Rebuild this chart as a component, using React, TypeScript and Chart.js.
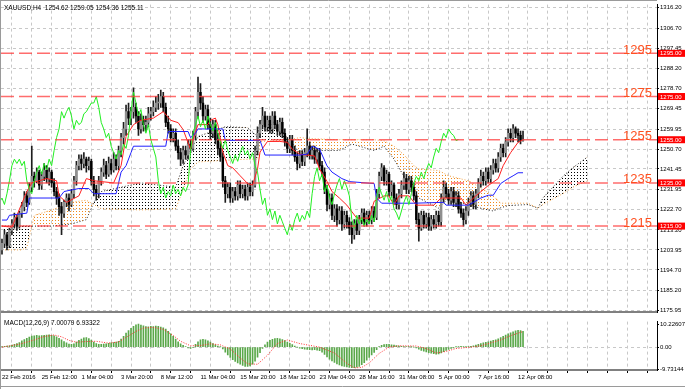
import React, { useEffect, useRef } from 'react';
import { Chart, registerables } from 'chart.js';
Chart.register(...registerables);

const TITLE = 'XAUUSD,H4  1254.62 1259.05 1254.36 1255.11';
const MACD_TITLE = 'MACD(12,26,9) 7.00079 6.93322';
const X_LABELS = ['22 Feb 2016', '25 Feb 12:00', '1 Mar 04:00', '3 Mar 20:00', '8 Mar 12:00', '11 Mar 04:00', '15 Mar 20:00', '18 Mar 12:00', '23 Mar 04:00', '28 Mar 16:00', '31 Mar 08:00', '5 Apr 00:00', '7 Apr 16:00', '12 Apr 08:00'];
const Y_TICKS = [1316.2, 1306.7, 1297.45, 1288.2, 1278.7, 1269.45, 1259.95, 1250.7, 1241.45, 1231.95, 1222.7, 1213.2, 1203.95, 1194.7, 1185.2, 1175.95];
const MACD_TICKS = [10.22607, 0, -9.73144];
const LEVELS = [1295, 1275, 1255, 1235, 1215];

const OPEN = [
  1204,1207,1211,1206,1213,1216,1219,1215,1221,1224,
  1229,1226,1233,1238,1236,1240,1234,1238,1241,1237,
  1240,1235,1231,1228,1224,1221,1226,1228,1225,1230,
  1236,1243,1246,1244,1246,1243,1245,1236,1232,1230,
  1236,1240,1243,1239,1244,1241,1246,1243,1250,1256,
  1260,1268,1265,1268,1270,1266,1260,1264,1262,1263,
  1267,1268,1270,1272,1272,1275,1270,1263,1260,1256,
  1258,1252,1249,1246,1250,1248,1253,1251,1257,1268,
  1277,1272,1266,1269,1262,1258,1262,1255,1251,1247,
  1236,1230,1233,1228,1231,1229,1234,1230,1232,1229,
  1233,1231,1234,1250,1258,1262,1266,1261,1264,1260,
  1266,1262,1259,1263,1258,1254,1251,1255,1250,1247,
  1244,1248,1245,1249,1252,1248,1250,1246,1249,1243,
  1240,1232,1225,1228,1220,1223,1218,1222,1216,1220,
  1217,1214,1211,1216,1213,1218,1221,1217,1220,1218,
  1222,1219,1230,1238,1242,1236,1239,1231,1234,1228,
  1225,1230,1234,1237,1232,1236,1233,1229,1218,1214,
  1220,1216,1219,1215,1218,1216,1220,1217,1228,1233,
  1230,1227,1231,1226,1229,1223,1221,1218,1222,1226,
  1229,1225,1230,1235,1238,1236,1240,1237,1241,1244,
  1242,1247,1251,1249,1254,1258,1256,1260,1258,1257,1254.62
];
const HIGH = [
  1209,1213,1212,1214,1218,1221,1220,1222,1226,1231,
  1231,1235,1252,1240,1242,1241,1240,1244,1243,1242,
  1241,1237,1233,1230,1226,1227,1230,1230,1232,1238,
  1245,1248,1248,1249,1247,1247,1246,1238,1234,1238,
  1242,1246,1245,1247,1246,1249,1248,1252,1258,1263,
  1271,1272,1270,1279,1272,1268,1267,1266,1266,1270,
  1270,1273,1275,1276,1278,1277,1272,1266,1262,1260,
  1260,1255,1251,1252,1252,1255,1255,1259,1270,1284,
  1281,1275,1271,1271,1265,1264,1264,1258,1254,1249,
  1238,1235,1235,1233,1233,1236,1236,1234,1234,1235,
  1235,1236,1252,1261,1264,1270,1268,1266,1266,1268,
  1268,1264,1265,1265,1260,1256,1257,1257,1252,1249,
  1250,1250,1251,1260,1254,1252,1252,1251,1251,1245,
  1242,1234,1230,1230,1225,1225,1224,1224,1222,1222,
  1219,1217,1218,1218,1220,1223,1223,1222,1222,1224,
  1224,1232,1240,1244,1243,1241,1240,1236,1235,1230,
  1232,1236,1240,1239,1238,1238,1235,1231,1221,1222,
  1222,1221,1221,1220,1220,1222,1222,1230,1236,1235,
  1232,1233,1233,1231,1231,1226,1223,1224,1228,1231,
  1231,1232,1237,1241,1240,1242,1242,1243,1246,1246,
  1249,1253,1253,1256,1260,1260,1262,1261,1260,1259,1259.05
];
const LOW = [
  1202,1205,1204,1205,1211,1214,1213,1214,1219,1222,
  1224,1225,1231,1233,1235,1232,1232,1236,1235,1234,
  1233,1229,1225,1220,1211,1219,1224,1222,1224,1228,
  1234,1241,1241,1242,1240,1241,1234,1229,1227,1228,
  1234,1238,1237,1238,1239,1240,1241,1241,1247,1253,
  1257,1262,1262,1265,1263,1257,1258,1259,1259,1261,
  1264,1266,1268,1269,1270,1268,1261,1258,1254,1254,
  1250,1246,1243,1244,1246,1246,1249,1250,1255,1265,
  1269,1263,1264,1260,1255,1256,1253,1248,1245,1233,
  1226,1228,1226,1226,1227,1227,1228,1228,1227,1227,
  1229,1229,1233,1248,1256,1260,1259,1259,1258,1258,
  1260,1257,1257,1256,1252,1249,1249,1248,1245,1241,
  1242,1243,1243,1247,1246,1246,1244,1244,1241,1238,
  1230,1222,1223,1218,1217,1215,1216,1213,1214,1214,
  1211,1207,1209,1211,1211,1216,1215,1215,1216,1216,
  1217,1218,1228,1236,1234,1234,1229,1229,1226,1223,
  1223,1228,1232,1230,1230,1231,1227,1216,1208,1213,
  1214,1214,1213,1213,1214,1214,1215,1215,1226,1228,
  1225,1225,1224,1224,1221,1219,1215,1216,1220,1224,
  1223,1223,1228,1233,1234,1234,1235,1235,1239,1240,
  1240,1245,1247,1247,1252,1254,1254,1256,1254,1253,1254.36
];
const CLOSE = [
  1207,1211,1206,1213,1216,1219,1215,1221,1224,1229,
  1226,1233,1238,1236,1240,1234,1238,1241,1237,1240,
  1235,1231,1228,1224,1221,1226,1228,1225,1230,1236,
  1243,1246,1244,1246,1243,1245,1236,1232,1230,1236,
  1240,1243,1239,1244,1241,1246,1243,1250,1256,1260,
  1268,1265,1268,1270,1266,1260,1264,1262,1263,1267,
  1268,1270,1272,1272,1275,1270,1263,1260,1256,1258,
  1252,1249,1246,1250,1248,1253,1251,1257,1268,1277,
  1272,1266,1269,1262,1258,1262,1255,1251,1247,1236,
  1230,1233,1228,1231,1229,1234,1230,1232,1229,1233,
  1231,1234,1250,1258,1262,1266,1261,1264,1260,1266,
  1262,1259,1263,1258,1254,1251,1255,1250,1247,1244,
  1248,1245,1249,1252,1248,1250,1246,1249,1243,1240,
  1232,1225,1228,1220,1223,1218,1222,1216,1220,1217,
  1214,1211,1216,1213,1218,1221,1217,1220,1218,1222,
  1219,1230,1238,1242,1236,1239,1231,1234,1228,1225,
  1230,1234,1237,1232,1236,1233,1229,1218,1214,1220,
  1216,1219,1215,1218,1216,1220,1217,1228,1233,1230,
  1227,1231,1226,1229,1223,1221,1218,1222,1226,1229,
  1225,1230,1235,1238,1236,1240,1237,1241,1244,1242,
  1247,1251,1249,1254,1258,1256,1260,1258,1257,1254.62,1255.11
];

const CHIKOU_SHIFT = 26;

const TENKAN_BARS = [0,4,10,12,18,22,23,26,31,34,37,45,48,50,53,56,61,65,68,71,73,76,77,79,83,84,86,87,89,91,93,96,99,101,103,104,107,112,115,117,120,126,128,131,133,136,139,143,148,150,154,156,158,160,164,167,174,177,185,187,191,196,200,202,205,208,210];
const TENKAN = [1215,1214.5,1231,1235,1237,1236,1229,1226,1229,1237,1236,1235,1243,1256.5,1262,1264,1265,1268,1264,1262.9,1259.7,1250.6,1255,1262,1262,1264,1265,1262,1249.3,1243,1242,1238.3,1234.7,1234,1241.5,1249.3,1254.2,1254.2,1253.8,1250.6,1248.3,1247.5,1241.5,1235.7,1231,1228,1224.7,1218.7,1218.7,1226.5,1229,1229,1224.7,1229,1229,1224.7,1224.7,1228,1228,1224.7,1229,1233.8,1237,1243,1249,1253.8,1255];

const KIJUN_BARS = [0,2,3,10,11,23,25,27,31,35,37,46,48,50,52,53,66,67,75,76,78,79,89,90,104,106,120,123,125,128,131,133,137,140,150,151,153,166,178,179,188,190,193,196,198,201,204,206,208,210];
const KIJUN = [1217.8,1217.8,1220,1221,1228,1228,1231,1231.5,1232.4,1232.4,1230,1230,1240,1243,1249,1252,1252,1258.8,1258.8,1256,1258,1260,1260,1254.7,1254.7,1247.9,1247.9,1248.3,1252,1250.6,1242.9,1240,1237,1235.6,1234.7,1228,1225.6,1225.6,1226,1224.7,1224.7,1226,1228,1229.3,1229.3,1234.7,1237,1238.3,1239.7,1239.7];

const CLOUD_BARS = [0,8,10,13,20,28,34,37,40,56,70,73,76,79,90,99,103,104,110,115,118,120,124,136,141,150,154,158,162,166,168,176,180,188,194,198,201,204,212,216,218,226,230,236];
const SPAN_A = [1204,1204,1205,1220,1222.4,1226,1227,1225,1223,1222.5,1223,1232,1241.5,1244.7,1245.5,1246,1246,1254.2,1254.5,1255,1255.5,1256,1255.5,1255,1255,1255,1254.5,1252,1248,1243,1241.5,1240.7,1238.3,1236,1232,1229,1225.6,1225.6,1225.6,1223.3,1225,1230,1233,1236];
const SPAN_B = [1215,1215,1215,1215,1215,1216,1218,1226,1231,1235,1233,1243,1250,1256.5,1261,1260.6,1256.5,1264,1263,1256,1252,1248,1250,1250,1253,1250,1252,1246,1238,1232,1228,1223.3,1228,1224.7,1223,1222,1223.5,1224.5,1225,1223.3,1228,1238,1242,1247];

const MACD_HIST = [
  0.3,0.4,0.5,0.6,0.9,1.2,1.6,2.0,2.8,3.4,
  3.9,4.5,4.9,5.0,5.2,5.0,5.1,5.3,5.4,5.5,
  5.3,5.0,4.6,3.9,3.2,2.5,1.9,1.4,1.2,1.5,
  2.2,3.0,3.6,4.1,4.3,3.8,3.1,2.3,1.6,1.3,
  1.2,1.4,1.5,1.7,1.9,2.0,2.2,2.6,3.6,4.8,
  6.2,7.4,8.4,9.2,9.9,10.2,9.8,9.5,9.1,9.0,
  9.2,9.1,9.3,9.2,8.9,8.6,8.0,7.0,5.9,4.8,
  3.6,2.4,1.5,0.8,0.2,-0.3,-0.6,-0.2,1.2,2.4,
  3.2,3.5,3.3,2.8,2.2,1.6,1.0,0.5,0.1,-0.8,
  -2.2,-3.5,-4.6,-5.6,-6.3,-7.0,-7.6,-8.1,-8.5,-8.6,
  -8.3,-7.6,-6.2,-4.4,-2.4,-0.6,1.0,2.2,3.0,3.5,
  3.8,3.9,3.7,3.4,2.9,2.3,1.7,1.1,0.5,0.0,
  -0.4,-0.7,-0.9,-1.0,-1.1,-1.2,-1.1,-1.3,-1.6,-2.2,
  -3.2,-4.3,-5.3,-6.1,-6.8,-7.4,-7.9,-8.3,-8.6,-8.8,
  -9.0,-9.1,-9.1,-8.9,-8.5,-7.8,-6.9,-5.8,-4.6,-3.4,
  -2.3,-1.1,0.2,0.8,1.1,1.3,1.2,1.0,0.9,0.7,
  0.5,0.4,0.3,0.2,0.2,0.1,0.0,-0.3,-0.9,-1.4,
  -1.8,-2.1,-2.4,-2.7,-2.9,-3.1,-3.0,-2.6,-2.0,-1.5,
  -1.0,-0.6,-0.3,0.1,0.3,0.4,0.3,0.2,0.3,0.4,
  0.6,0.9,1.3,1.6,1.9,2.1,2.4,2.7,3.0,3.3,
  3.7,4.2,4.8,5.4,5.9,6.4,6.8,7.2,7.5,7.3,7.0
];
const SIGNAL_BARS = [0,7,13,17,21,24,27,30,34,38,43,47,51,54,57,61,65,69,72,76,80,84,88,92,96,99,103,107,111,115,120,128,134,139,142,145,148,152,156,160,167,171,175,179,183,189,193,197,201,205,210];
const SIGNAL = [0.0,1.3,3.2,4.7,5.4,4.6,3.0,2.2,2.5,2.6,1.8,2.3,5.0,7.0,8.5,8.8,7.9,5.2,2.6,0.6,0.7,1.5,1.0,-0.8,-4.8,-7.4,-7.6,-3.6,1.6,3.2,1.6,0.0,-2.6,-7.2,-9.2,-9.0,-7.0,-2.8,0.0,0.6,0.5,-0.6,-2.6,-1.9,-0.6,0.0,0.6,1.9,3.2,5.1,6.93];

const X_MIN = -0.4;
const X_MAX = 264;
const FONT = '"Liberation Sans", Arial, sans-serif';
const GRID = '#c8c8c8';

function gridBars(): number[] {
  const out: number[] = [];
  for (let b = 0; b <= X_MAX; b += 8) out.push(b);
  return out;
}

function dotPattern(ctx: CanvasRenderingContext2D, color: string) {
  const t = document.createElement('canvas');
  t.width = 3; t.height = 3;
  const g = t.getContext('2d')!;
  g.fillStyle = color;
  g.fillRect(1, 1, 1, 1);
  return ctx.createPattern(t, 'repeat')!;
}

const pts = (xs: number[], ys: number[]) => xs.map((x, i) => ({ x, y: ys[i] }));

export default function App() {
  const mainRef = useRef<HTMLCanvasElement>(null);
  const macdRef = useRef<HTMLCanvasElement>(null);

  useEffect(() => {
    const mc = mainRef.current!;
    const dc = macdRef.current!;
    const mctx = mc.getContext('2d')!;
    const orangePat = dotPattern(mctx, '#f08a1c');
    const blackPat = dotPattern(mctx, '#000000');
    const bars = gridBars();

    const mainDecor = {
      id: 'mainDecor',
      afterDraw(chart: any) {
        const { ctx, chartArea, scales } = chart;
        const y = scales.y;
        ctx.save();
        LEVELS.forEach((v) => {
          const py = y.getPixelForValue(v);
          ctx.font = `13px ${FONT}`;
          ctx.fillStyle = '#ff5020';
          ctx.textAlign = 'right';
          ctx.textBaseline = 'alphabetic';
          ctx.fillText(String(v), chartArea.right - 5, py + 0.5);
          ctx.fillStyle = '#ff0000';
          ctx.fillRect(chartArea.right + 1, py - 3.5, 27, 7);
          ctx.fillStyle = '#ffffff';
          ctx.font = `6px ${FONT}`;
          ctx.textAlign = 'left';
          ctx.textBaseline = 'middle';
          ctx.fillText(v.toFixed(2), chartArea.right + 3, py + 0.5);
        });
        ctx.fillStyle = '#000';
        ctx.font = `6.5px ${FONT}`;
        ctx.textAlign = 'left';
        ctx.textBaseline = 'middle';
        ctx.fillText(TITLE, 4, 8);
        ctx.strokeStyle = '#9a9a9a';
        ctx.lineWidth = 1;
        ctx.beginPath();
        ctx.moveTo(0.5, 0); ctx.lineTo(0.5, chart.height);
        ctx.moveTo(0, 0.5); ctx.lineTo(chartArea.right, 0.5);
        ctx.stroke();
        ctx.restore();
      },
    };

    const macdDecor = {
      id: 'macdDecor',
      afterDraw(chart: any) {
        const { ctx } = chart;
        ctx.save();
        ctx.fillStyle = '#000';
        ctx.font = `6.5px ${FONT}`;
        ctx.textAlign = 'left';
        ctx.textBaseline = 'middle';
        ctx.fillText(MACD_TITLE, 4, 6);
        ctx.strokeStyle = '#9a9a9a';
        ctx.lineWidth = 1;
        ctx.beginPath();
        ctx.moveTo(0.5, 0); ctx.lineTo(0.5, chart.height);
        ctx.moveTo(0, 69.5); ctx.lineTo(chart.width, 69.5);
        ctx.stroke();
        ctx.restore();
      },
    };

    const xScaleBase = {
      type: 'linear' as const,
      min: X_MIN,
      max: X_MAX,
      offset: false,
      afterBuildTicks: (s: any) => { s.ticks = bars.map((v) => ({ value: v })); },
      border: { display: true, color: '#808080', width: 2, dash: [3, 3] },
    };

    const main = new Chart(mc, {
      type: 'bar',
      data: {
        datasets: [
          {
            type: 'line', label: 'spanA', data: pts(CLOUD_BARS, SPAN_A),
            borderColor: '#f0a040', borderWidth: 1, borderDash: [1, 2], pointRadius: 0,
            fill: { target: 1, above: orangePat, below: blackPat } as any, order: 6,
          },
          {
            type: 'line', label: 'spanB', data: pts(CLOUD_BARS, SPAN_B),
            borderColor: '#222', borderWidth: 1, borderDash: [1, 2], pointRadius: 0, fill: false, order: 7,
          },
          {
            type: 'bar', label: 'wick', data: HIGH.map((h, i) => ({ x: i, y: [LOW[i], h] })) as any,
            backgroundColor: '#1e1e1e', barThickness: 1, grouped: false, order: 4,
          },
          {
            type: 'bar', label: 'body', data: OPEN.map((o, i) => ({ x: i, y: [o, CLOSE[i]] })) as any,
            backgroundColor: OPEN.map((o, i) => (CLOSE[i] >= o ? '#8f8f8f' : '#000000')),
            barThickness: 1.8, grouped: false, minBarLength: 1, order: 3,
          },
          {
            type: 'line', label: 'chikou', data: CLOSE.map((c, i) => ({ x: i - CHIKOU_SHIFT, y: c })),
            borderColor: '#22ee22', borderWidth: 1, pointRadius: 0, fill: false, order: 2,
          },
          {
            type: 'line', label: 'kijun', data: pts(KIJUN_BARS, KIJUN),
            borderColor: '#2020ff', borderWidth: 1, pointRadius: 0, fill: false, order: 2,
          },
          {
            type: 'line', label: 'tenkan', data: pts(TENKAN_BARS, TENKAN),
            borderColor: '#ff2020', borderWidth: 1, pointRadius: 0, fill: false, order: 2,
          },
          ...LEVELS.map((v) => ({
            type: 'line' as const, label: 'L' + v, data: [{ x: X_MIN, y: v }, { x: X_MAX, y: v }],
            borderColor: 'rgba(255,60,60,0.75)', borderWidth: 1.5, borderDash: [13, 5], pointRadius: 0, fill: false, order: 0,
          })),
        ] as any,
      },
      options: {
        responsive: false,
        devicePixelRatio: 1,
        animation: false,
        events: [],
        layout: { padding: { left: 1, top: 3, right: 0, bottom: 1 } },
        plugins: { legend: { display: false }, tooltip: { enabled: false } },
        scales: {
          x: {
            ...xScaleBase,
            ticks: { display: false },
            grid: { color: GRID, drawTicks: false },
            afterFit: (s: any) => { s.height = 0; },
          },
          y: {
            type: 'linear', position: 'right', min: 1175.04, max: 1317.57,
            afterBuildTicks: (s: any) => { s.ticks = Y_TICKS.map((v) => ({ value: v })); },
            afterFit: (s: any) => { s.width = 28; },
            grid: { color: GRID, drawTicks: true, tickLength: 2, tickColor: '#000' },
            border: { display: true, color: '#000', width: 1, dash: [3, 3] },
            ticks: { color: '#000', font: { size: 6, family: FONT }, padding: 1, callback: (v: any) => Number(v).toFixed(2) },
          },
        },
      } as any,
      plugins: [mainDecor],
    });

    const macd = new Chart(dc, {
      type: 'bar',
      data: {
        datasets: [
          {
            type: 'line', label: 'signal', data: pts(SIGNAL_BARS, SIGNAL),
            borderColor: '#ff3030', borderWidth: 1, borderDash: [1, 1.5], pointRadius: 0, fill: false, order: 0,
          },
          {
            type: 'bar', label: 'macd', data: MACD_HIST.map((v, i) => ({ x: i, y: v })),
            backgroundColor: '#5aa84a', barThickness: 1, grouped: false, order: 1,
          },
        ] as any,
      },
      options: {
        responsive: false,
        devicePixelRatio: 1,
        animation: false,
        events: [],
        layout: { padding: { left: 1, top: 1, right: 0, bottom: 0 } },
        plugins: { legend: { display: false }, tooltip: { enabled: false } },
        scales: {
          x: {
            ...xScaleBase,
            grid: { color: GRID, drawTicks: true, tickLength: 3, tickColor: '#000' },
            ticks: {
              color: '#000', font: { size: 6, family: FONT }, padding: 1, align: 'start',
              autoSkip: false, maxRotation: 0, minRotation: 0,
              callback: (v: any) => {
                const n = Number(v);
                const k = n / 16;
                return Number.isInteger(k) && k < X_LABELS.length ? X_LABELS[k] : '';
              },
            },
            afterFit: (s: any) => { s.height = 19; },
          },
          y: {
            type: 'linear', position: 'right', min: -10.14, max: 11.34,
            afterBuildTicks: (s: any) => { s.ticks = MACD_TICKS.map((v) => ({ value: v })); },
            afterFit: (s: any) => { s.width = 28; },
            grid: {
              color: (c: any) => (c.tick && c.tick.value === 0 ? GRID : 'rgba(0,0,0,0)'),
              drawTicks: true, tickLength: 2, tickColor: '#000',
            },
            border: { display: true, color: '#000', width: 1, dash: [3, 3] },
            ticks: {
              color: '#000', font: { size: 6, family: FONT }, padding: 1,
              callback: (v: any) => (Number(v) === 0 ? '0.00' : Number(v).toFixed(5)),
            },
          },
        },
      } as any,
      plugins: [macdDecor],
    });

    return () => { main.destroy(); macd.destroy(); };
  }, []);

  return (
    <div style={{ position: 'absolute', left: 0, top: 0, width: 685, height: 389, background: '#fff', overflow: 'hidden' }}>
      <canvas ref={mainRef} width={685} height={317} style={{ position: 'absolute', left: 0, top: 0, width: 685, height: 317 }} />
      <canvas ref={macdRef} width={685} height={72} style={{ position: 'absolute', left: 0, top: 317, width: 685, height: 72 }} />
    </div>
  );
}
